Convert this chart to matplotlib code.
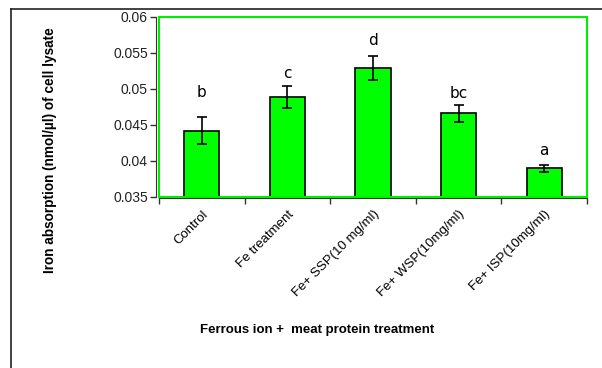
import numpy as np
import matplotlib.pyplot as plt
from matplotlib.patches import Rectangle
from matplotlib.lines import Line2D

plt.rcParams['font.family'] = ['Liberation Sans', 'DejaVu Sans']

# datos
categories = ["Control", "Fe treatment", "Fe+ SSP(10 mg/ml)", "Fe+ WSP(10mg/ml)", "Fe+ ISP(10mg/ml)"]
values = [0.0442, 0.0489, 0.0529, 0.0466, 0.0390]
errors = [0.0019, 0.0015, 0.0017, 0.0012, 0.0005]
letters = ["b", "c", "d", "bc", "a"]
letter_offset = [12, 4, 6, 3, 4.5]  # puntos sobre la barra de error

W, H = 602, 368
fig = plt.figure(figsize=(W / 100, H / 100), dpi=100)
ax = fig.add_axes([159 / W, 1 - 197 / H, 428 / W, 180 / H])

# ejes primero (set_position reinicia los ticks)
for s in ax.spines.values():
    s.set_visible(False)
ax.spines['left'].set_visible(True)
ax.spines['left'].set_color('#333333')
ax.spines['left'].set_position(('outward', 2))
ax.spines['bottom'].set_visible(True)
ax.spines['bottom'].set_color('#333333')
ax.spines['bottom'].set_position(('outward', 1))
ax.add_patch(Rectangle((0, 0), 1, 1, transform=ax.transAxes, fill=False,
                       edgecolor='#00ee00', linewidth=1.5, clip_on=False, zorder=5))

x = np.arange(len(categories))
ax.bar(x, values, width=0.41, color='#00ff00', edgecolor='black', linewidth=1.2, zorder=2)
ax.errorbar(x, values, yerr=errors, fmt='none', ecolor='black', elinewidth=1.2,
            capsize=3.5, capthick=1.2, zorder=3)

for xi, v, e, lab, off in zip(x, values, errors, letters, letter_offset):
    ax.annotate(lab, (xi, v + e), xytext=(0, off), textcoords='offset points',
                ha='center', va='bottom', fontsize=11, family='DejaVu Sans', color='black')

ax.set_xlim(-0.5, len(categories) - 0.5)
ax.set_ylim(0.035, 0.06)
ax.set_yticks([0.035, 0.04, 0.045, 0.05, 0.055, 0.06])
ax.set_yticklabels(['0.035', '0.04', '0.045', '0.05', '0.055', '0.06'])
ax.tick_params(axis='y', direction='out', length=4, width=1, color='#333333', pad=2,
               labelsize=10, labelcolor='#222222')

# etiquetas en el centro, marcas en los limites de categoria
ax.set_xticks(x)
ax.set_xticklabels(categories)
ax.tick_params(axis='x', length=0, pad=7, labelsize=9.5, labelrotation=45)
ax.set_xticks(np.arange(len(categories) + 1) - 0.5, minor=True)
ax.tick_params(axis='x', which='minor', direction='out', length=4, width=1, color='#333333')
plt.setp(ax.get_xticklabels(), ha='right', va='top', rotation_mode='anchor')

ax.set_ylabel("Iron absorption (nmol/µl) of cell lysate", fontsize=9.8, fontweight='bold',
              va='center')
ax.yaxis.set_label_coords(-(159 - 50) / 428, (197 - 150) / 180)
ax.set_xlabel("Ferrous ion +  meat protein treatment", fontsize=9.5, fontweight='bold',
              va='center')
ax.xaxis.set_label_coords((317 - 159) / 428, -(330 - 197) / 180)

# marco de la figura
fig.add_artist(Line2D([11 / W, 1], [1 - 9 / H] * 2, color='#222222', lw=1.2))
fig.add_artist(Line2D([11 / W] * 2, [0, 1 - 9 / H], color='#222222', lw=1.2))

fig.savefig('out.png', dpi=100)
